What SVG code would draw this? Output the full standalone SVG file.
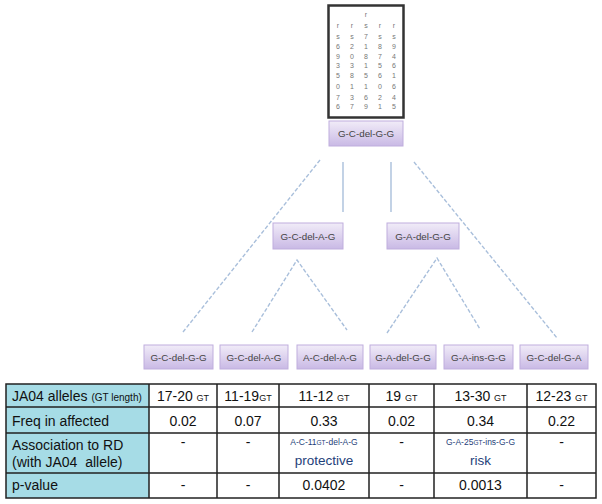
<svg xmlns="http://www.w3.org/2000/svg" width="602" height="504" viewBox="0 0 602 504">
<defs>
<linearGradient id="pg" x1="0" y1="0" x2="0" y2="1">
<stop offset="0" stop-color="#f1ecf8"/>
<stop offset="1" stop-color="#c9b9e5"/>
</linearGradient>
<style>
.box{fill:url(#pg);stroke:#bfaedd;stroke-width:1}
.bl{font-family:"Liberation Sans",Arial,sans-serif;font-size:9.8px;fill:#444;text-anchor:middle}
.dg{font-family:"Liberation Sans",Arial,sans-serif;font-size:7px;fill:#777;text-anchor:middle}
.cn{fill:none;stroke:#a9bfdb;stroke-width:1.4}
.dash{stroke-dasharray:4 2}
.t{font-family:"Liberation Sans",Arial,sans-serif;font-size:14px;fill:#111;white-space:pre}
.tc{text-anchor:middle}
.sm{font-size:9px}
.t.nv{fill:#1f3f7a}
.nvs{font-size:8.5px}
.nvx{font-size:6.5px}
.nvl{font-size:13.5px}
.grid{stroke:#222;stroke-width:1.5;fill:none}
</style>
</defs>
<rect width="602" height="504" fill="#fff"/>

<g id="connectors">
<line class="cn dash" x1="320" y1="160" x2="183" y2="332"/>
<line class="cn" x1="343" y1="162" x2="343" y2="212"/>
<line class="cn" x1="391" y1="162" x2="391" y2="212"/>
<line class="cn dash" x1="414" y1="162" x2="557" y2="338"/>
<polyline class="cn dash" points="252,332 297,260 347,330"/>
<polyline class="cn dash" points="387,333 437,258 480,329"/>
</g>

<g id="top-box">
<rect x="328.5" y="5.5" width="75" height="112" fill="#fff" stroke="#333" stroke-width="2.5"/>
<g class="dg">
<text x="366" y="17">r</text>
<text x="338" y="28">r</text><text x="352" y="28">r</text><text x="366" y="28">s</text><text x="380" y="28">r</text><text x="394" y="28">r</text>
<text x="338" y="39">s</text><text x="352" y="39">s</text><text x="366" y="39">7</text><text x="380" y="39">s</text><text x="394" y="39">s</text>
<text x="338" y="49">6</text><text x="352" y="49">2</text><text x="366" y="49">1</text><text x="380" y="49">8</text><text x="394" y="49">9</text>
<text x="338" y="59">9</text><text x="352" y="59">0</text><text x="366" y="59">8</text><text x="380" y="59">7</text><text x="394" y="59">4</text>
<text x="338" y="68">3</text><text x="352" y="68">3</text><text x="366" y="68">1</text><text x="380" y="68">5</text><text x="394" y="68">6</text>
<text x="338" y="78">5</text><text x="352" y="78">8</text><text x="366" y="78">5</text><text x="380" y="78">6</text><text x="394" y="78">1</text>
<text x="338" y="89">0</text><text x="352" y="89">1</text><text x="366" y="89">1</text><text x="380" y="89">0</text><text x="394" y="89">6</text>
<text x="338" y="100">7</text><text x="352" y="100">3</text><text x="366" y="100">6</text><text x="380" y="100">2</text><text x="394" y="100">4</text>
<text x="338" y="109">6</text><text x="352" y="109">7</text><text x="366" y="109">9</text><text x="380" y="109">1</text><text x="394" y="109">5</text>
</g>
</g>

<g id="n-root"><rect class="box" x="329" y="121" width="74" height="25"/><text class="bl" x="366" y="137">G-C-del-G-G</text></g>
<g id="n-mid1"><rect class="box" x="273" y="223" width="70" height="26"/><text class="bl" x="308" y="240">G-C-del-A-G</text></g>
<g id="n-mid2"><rect class="box" x="387" y="223" width="72" height="26"/><text class="bl" x="423" y="240">G-A-del-G-G</text></g>

<g id="n-leaf1"><rect class="box" x="144" y="345" width="69" height="24"/><text class="bl" x="178.5" y="361">G-C-del-G-G</text></g>
<g id="n-leaf2"><rect class="box" x="220" y="345" width="68" height="24"/><text class="bl" x="254" y="361">G-C-del-A-G</text></g>
<g id="n-leaf3"><rect class="box" x="297" y="345" width="66" height="24"/><text class="bl" x="330" y="361">A-C-del-A-G</text></g>
<g id="n-leaf4"><rect class="box" x="370" y="345" width="66" height="24"/><text class="bl" x="403" y="361">G-A-del-G-G</text></g>
<g id="n-leaf5"><rect class="box" x="444" y="345" width="69" height="24"/><text class="bl" x="478.5" y="361">G-A-ins-G-G</text></g>
<g id="n-leaf6"><rect class="box" x="520" y="345" width="68" height="24"/><text class="bl" x="554" y="361">G-C-del-G-A</text></g>

<g id="table">
<rect x="6" y="384" width="143" height="114" fill="#a6dce6"/>
<rect class="grid" x="6" y="384" width="590" height="114"/>
<path class="grid" d="M6 407H596M6 433H596M6 473H596M149 384V498M217 384V498M279 384V498M369 384V498M434 384V498M527 384V498"/>
<text class="t" x="12" y="401">JA04 alleles <tspan style="font-size:10px">(GT length)</tspan></text>
<text class="t" x="12" y="426">Freq in affected</text>
<text class="t" x="12" y="450">Association to RD</text>
<text class="t" x="12" y="467" xml:space="preserve">(with JA04  allele)</text>
<text class="t" x="12" y="490">p-value</text>

<text class="t tc" x="183" y="401">17-20 <tspan class="sm">GT</tspan></text>
<text class="t tc" x="248" y="401">11-19<tspan class="sm">GT</tspan></text>
<text class="t tc" x="324" y="401">11-12 <tspan class="sm">GT</tspan></text>
<text class="t tc" x="401.5" y="401">19 <tspan class="sm">GT</tspan></text>
<text class="t tc" x="480.5" y="401">13-30 <tspan class="sm">GT</tspan></text>
<text class="t tc" x="561.5" y="401">12-23 <tspan class="sm">GT</tspan></text>

<text class="t tc" x="183" y="426">0.02</text>
<text class="t tc" x="248" y="426">0.07</text>
<text class="t tc" x="324" y="426">0.33</text>
<text class="t tc" x="401.5" y="426">0.02</text>
<text class="t tc" x="480.5" y="426">0.34</text>
<text class="t tc" x="561.5" y="426">0.22</text>

<text class="t tc" x="183" y="447">-</text>
<text class="t tc" x="248" y="447">-</text>
<text class="t tc nv nvs" x="324" y="445">A-C-11<tspan class="nvx">GT</tspan>-del-A-G</text>
<text class="t tc nv nvl" x="324" y="465">protective</text>
<text class="t tc" x="401.5" y="447">-</text>
<text class="t tc nv nvs" x="480.5" y="445">G-A-25<tspan class="nvx">GT</tspan>-ins-G-G</text>
<text class="t tc nv nvl" x="480.5" y="465">risk</text>
<text class="t tc" x="561.5" y="447">-</text>

<text class="t tc" x="183" y="490">-</text>
<text class="t tc" x="248" y="490">-</text>
<text class="t tc" x="324" y="490">0.0402</text>
<text class="t tc" x="401.5" y="490">-</text>
<text class="t tc" x="480.5" y="490">0.0013</text>
<text class="t tc" x="561.5" y="490">-</text>
</g>
</svg>
